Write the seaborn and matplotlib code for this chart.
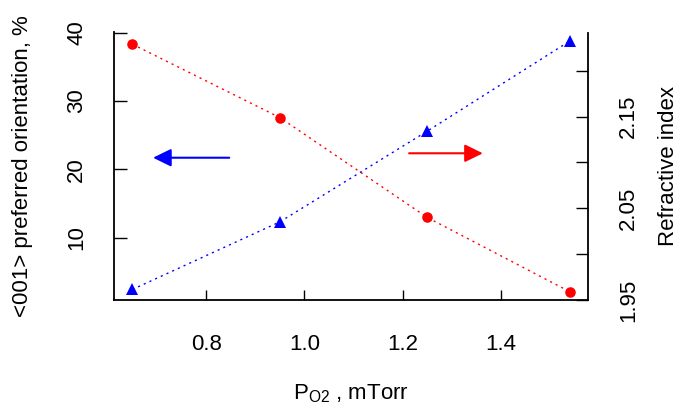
import numpy as np
import matplotlib
matplotlib.use("Agg")
import matplotlib.pyplot as plt
import seaborn as sns

# Data
pressure = [0.65, 0.95, 1.25, 1.54]             # P_O2, mTorr
orientation = [2.4, 12.3, 25.6, 38.8]           # <001> preferred orientation, %
refr_index = [2.229, 2.149, 2.040, 1.959]       # refractive index

x_ticks = [0.8, 1.0, 1.2, 1.4]
x_labels = ["0.8", "1.0", "1.2", "1.4"]
left_ticks = [10, 20, 30, 40]
left_labels = ["10", "20", "30", "40"]
right_ticks = [1.95, 2.00, 2.05, 2.10, 2.15, 2.20]
right_labels = ["1.95", "", "2.05", "", "2.15", ""]

# Arrow annotations (tail, head) in left-axis data coordinates
blue_arrow = ((0.847, 21.7), (0.692, 21.7))
red_arrow = ((1.213, 22.35), (1.363, 22.35))

sns.set_theme(style="ticks")
plt.rcParams['font.family'] = ['Liberation Sans', 'DejaVu Sans']
plt.rcParams['mathtext.fontset'] = 'custom'
plt.rcParams['mathtext.rm'] = 'Liberation Sans'
plt.rcParams['mathtext.default'] = 'regular'
plt.rcParams['text.color'] = 'black'

FS = 16

fig = plt.figure(figsize=(6.8, 4.08), dpi=100)
ax = fig.add_axes([113.5 / 680, 108 / 408, 474.5 / 680, 267.5 / 408])
ax2 = ax.twinx()

dots = (0, (1.5, 3))
sns.lineplot(x=pressure, y=orientation, ax=ax, color='blue', linestyle=dots,
             linewidth=1.0, marker='^', markersize=9.2, markeredgewidth=0,
             markeredgecolor='blue')
sns.lineplot(x=pressure, y=refr_index, ax=ax2, color='red', linestyle=dots,
             linewidth=1.0, marker='o', markersize=7.6, markeredgewidth=0,
             markeredgecolor='red')

ax.set_xlim(0.6115, 1.577)
ax.set_ylim(0.85, 40.05)
ax2.set_ylim(1.9507, 2.2418)

ax.set_xticks(x_ticks, x_labels)
ax.set_yticks(left_ticks, left_labels)
ax2.set_yticks(right_ticks, right_labels)

for a in (ax, ax2):
    a.grid(False)
    a.set_facecolor('none')
    a.spines['top'].set_visible(False)
    for s in a.spines.values():
        s.set_color('black')
        s.set_linewidth(1.3)
ax.spines['right'].set_visible(False)
ax2.spines['left'].set_visible(False)
ax2.spines['bottom'].set_visible(False)

ax.tick_params(axis='x', direction='in', length=7.2, width=1.0, color='black',
               pad=24.5, labelsize=FS, labelcolor='black')
ax.tick_params(axis='y', direction='in', length=9, width=1.0, color='black',
               pad=19, labelsize=FS, labelcolor='black', labelrotation=90)
ax2.tick_params(axis='y', direction='in', length=8.4, width=1.0, color='black',
                pad=21.5, labelsize=FS, labelcolor='black', labelrotation=90)
for lab in ax.get_yticklabels() + ax2.get_yticklabels():
    lab.set_va('center')

ax.set_xlabel(r'P$_{O2}$ , mTorr', fontsize=FS, color='black')
ax.xaxis.set_label_coords(0.5, -0.351)
ax.xaxis.label.set_va('center')
ax.set_ylabel('<001> preferred orientation, %', fontsize=FS, color='black')
ax.yaxis.set_label_coords(-0.192, 0.5)
ax.yaxis.label.set_va('center')
ax2.set_ylabel('Refractive index', fontsize=FS, color='black')
ax2.yaxis.set_label_coords(1.169, 0.5)
ax2.yaxis.label.set_va('center')
ax2.yaxis.label.set_rotation(90)

for (tail, head), col in ((blue_arrow, 'blue'), (red_arrow, 'red')):
    ax.annotate('', xy=head, xytext=tail,
                arrowprops=dict(arrowstyle='-|>,head_length=11,head_width=5.4',
                                mutation_scale=1, color=col, lw=1.5,
                                shrinkA=0, shrinkB=0))

fig.savefig('out.png', dpi=100)
